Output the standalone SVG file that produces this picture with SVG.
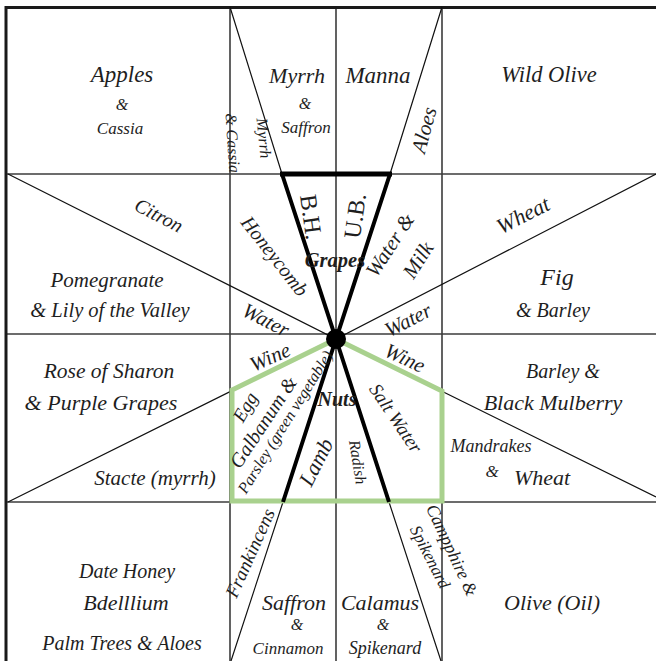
<svg xmlns="http://www.w3.org/2000/svg" width="656" height="661" viewBox="0 0 656 661">
<style>
  text { font-family: "Liberation Serif", "Times New Roman", serif; font-style: italic; fill: #1e1e1e; text-anchor: middle; }
  .r { dominant-baseline: central; }
  .up { font-style: normal; }
  .b { font-weight: bold; }
  .grid { stroke: #3c3c3c; stroke-width: 1.6; fill: none; }
  .thin { stroke: #111; stroke-width: 1.2; fill: none; }
  .thick { stroke: #000; stroke-width: 4; fill: none; stroke-linecap: butt; }
  .green { stroke: #a9d18e; stroke-width: 5; fill: none; stroke-linejoin: miter; }
</style>
<rect width="656" height="661" fill="#ffffff"/>
<g id="connectors">
  <path class="grid" d="M6,174 H656 M6,334 H656 M6,502 H656 M230,7 V661 M336,7 V661 M442,7 V661"/>
  <path d="M6,661 V7.5 H656" stroke="#1a1a1a" stroke-width="3" fill="none"/>
  <path class="thin" d="M8,174 L336,339 L656,174 M8,502 L336,339 L656,497"/>
  <path class="thin" d="M230,7 L282,174 M442,7 L390,174 M283,502 L231,661 M389,502 L441,661"/>
  <path class="green" d="M336,339 L232,390 L232,501 L442,501 L442,391 Z"/>
  <path class="thick" d="M282,174 L336,339 L390,174 M336,339 L283,502 M336,339 L389,502"/>
  <path d="M280,174 H392" stroke="#000" stroke-width="5"/>
  <circle cx="336" cy="339" r="10" fill="#000"/>
</g>
<g id="cell-apples">
  <text x="122" y="82" font-size="23">Apples</text>
  <text x="122" y="110" font-size="16">&amp;</text>
  <text x="120" y="134" font-size="17">Cassia</text>
</g>
<g id="cell-myrrh-cassia">
  <text class="r" transform="translate(264,138) rotate(84)" font-size="16">Myrrh</text>
  <text class="r" transform="translate(233,143) rotate(86)" font-size="16">&amp; Cassia</text>
</g>
<g id="cell-myrrh-saffron">
  <text x="297" y="83" font-size="22">Myrrh</text>
  <text x="305" y="109" font-size="16">&amp;</text>
  <text x="306" y="133" font-size="17">Saffron</text>
</g>
<g id="cell-manna">
  <text x="378" y="83" font-size="23">Manna</text>
</g>
<g id="cell-aloes">
  <text class="r" transform="translate(424,130) rotate(-75)" font-size="21">Aloes</text>
</g>
<g id="cell-wild-olive">
  <text x="549" y="82" font-size="22.5">Wild Olive</text>
</g>
<g id="cell-citron">
  <text class="r" transform="translate(159,215) rotate(27)" font-size="20">Citron</text>
</g>
<g id="cell-pomegranate">
  <text x="107" y="287" font-size="21">Pomegranate</text>
  <text x="110" y="317" font-size="20.5">&amp; Lily of the Valley</text>
</g>
<g id="cell-honeycomb">
  <text class="r" transform="translate(275,256) rotate(52)" font-size="20">Honeycomb</text>
</g>
<g id="cell-water-left">
  <text class="r" transform="translate(266,320) rotate(27)" font-size="21">Water</text>
</g>
<g id="cell-bh">
  <text class="r up" transform="translate(311,217) rotate(82)" font-size="24">B.H.</text>
</g>
<g id="cell-ub">
  <text class="r up" transform="translate(355,216) rotate(-82)" font-size="24">U.B.</text>
</g>
<g id="cell-grapes">
  <text class="b" x="335" y="267" font-size="20.5">Grapes</text>
</g>
<g id="cell-water-milk">
  <text class="r" transform="translate(390,245) rotate(-57)" font-size="21">Water &amp;</text>
  <text class="r" transform="translate(418,260) rotate(-57)" font-size="21">Milk</text>
</g>
<g id="cell-wheat-top">
  <text class="r" transform="translate(523,215) rotate(-27)" font-size="22">Wheat</text>
</g>
<g id="cell-fig">
  <text x="557" y="285" font-size="24">Fig</text>
  <text x="553" y="317" font-size="20">&amp; Barley</text>
</g>
<g id="cell-water-right">
  <text class="r" transform="translate(408,320) rotate(-27)" font-size="21">Water</text>
</g>
<g id="cell-wine-left">
  <text class="r" transform="translate(270,357) rotate(-24)" font-size="21">Wine</text>
</g>
<g id="cell-wine-right">
  <text class="r" transform="translate(405,358) rotate(25)" font-size="21">Wine</text>
</g>
<g id="cell-rose">
  <text x="109" y="378" font-size="21.5">Rose of Sharon</text>
  <text x="101" y="410" font-size="22">&amp; Purple Grapes</text>
</g>
<g id="cell-stacte">
  <text x="155" y="485" font-size="21">Stacte (myrrh)</text>
</g>
<g id="cell-egg">
  <text class="r" transform="translate(245,407) rotate(-60)" font-size="19">Egg</text>
</g>
<g id="cell-galbanum">
  <text class="r" transform="translate(263,422) rotate(-56.5)" font-size="20">Galbanum &amp;</text>
</g>
<g id="cell-parsley">
  <text class="r" transform="translate(285,422) rotate(-58)" font-size="16">Parsley (green vegetable)</text>
</g>
<g id="cell-nuts">
  <text class="b" x="337" y="406" font-size="20">Nuts</text>
</g>
<g id="cell-lamb">
  <text class="r" transform="translate(316,462) rotate(-63)" font-size="22">Lamb</text>
</g>
<g id="cell-radish">
  <text class="r" transform="translate(358,462) rotate(81)" font-size="16">Radish</text>
</g>
<g id="cell-salt-water">
  <text class="r" transform="translate(396,418) rotate(56)" font-size="19">Salt Water</text>
</g>
<g id="cell-barley-mulberry">
  <text x="563" y="378" font-size="20">Barley &amp;</text>
  <text x="553" y="410" font-size="22">Black Mulberry</text>
</g>
<g id="cell-mandrakes">
  <text x="491" y="452" font-size="18">Mandrakes</text>
  <text x="492" y="477" font-size="17">&amp;</text>
  <text x="542" y="485" font-size="22">Wheat</text>
</g>
<g id="cell-date-honey">
  <text x="127" y="578" font-size="20">Date Honey</text>
  <text x="126" y="610" font-size="22">Bdelllium</text>
  <text x="122" y="650" font-size="20">Palm Trees &amp; Aloes</text>
</g>
<g id="cell-frankincense">
  <text class="r" transform="translate(250,553) rotate(-66)" font-size="19">Frankincens</text>
</g>
<g id="cell-saffron-cinnamon">
  <text x="294" y="610" font-size="22">Saffron</text>
  <text x="297" y="630" font-size="16">&amp;</text>
  <text x="288" y="654" font-size="17">Cinnamon</text>
</g>
<g id="cell-calamus">
  <text x="380" y="610" font-size="22">Calamus</text>
  <text x="383" y="630" font-size="16">&amp;</text>
  <text x="385" y="654" font-size="18">Spikenard</text>
</g>
<g id="cell-spikenard">
  <text class="r" transform="translate(430,557) rotate(63)" font-size="17">Spikenard</text>
</g>
<g id="cell-campphire">
  <text class="r" transform="translate(452,550) rotate(65)" font-size="18">Campphire &amp;</text>
</g>
<g id="cell-olive-oil">
  <text x="552" y="610" font-size="22">Olive (Oil)</text>
</g>
</svg>
